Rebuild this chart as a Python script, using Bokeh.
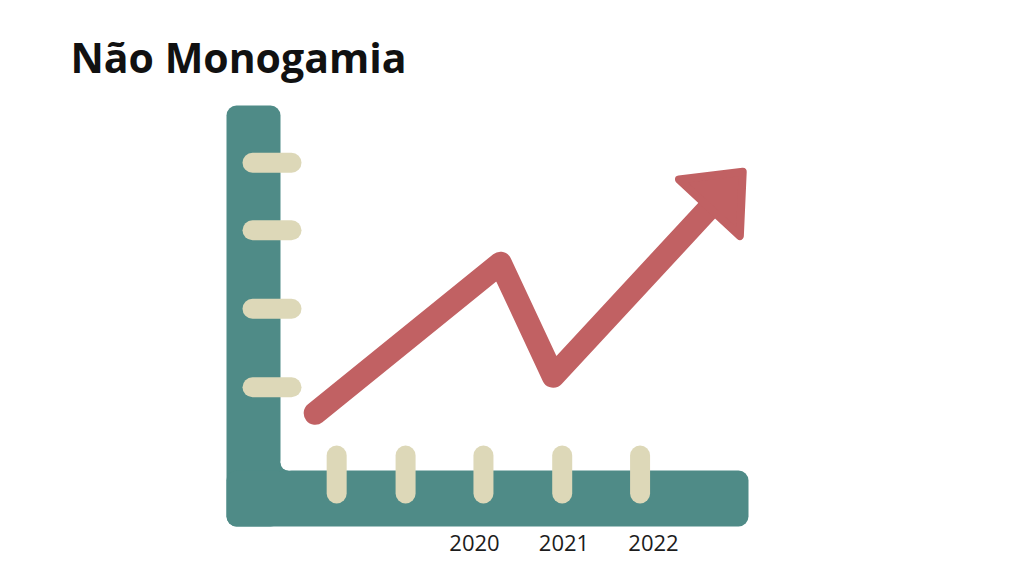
import numpy as np
from bokeh.plotting import figure
from bokeh.models import Range1d, Label
from bokeh.core.properties import value
from bokeh.embed import file_html
from bokeh.resources import INLINE

# ---------------- data ----------------
title_text = "Não Monogamia"
year_labels = ["2020", "2021", "2022"]
year_positions = [2020, 2021, 2022]
trend_x = [2018.22, 2020.29, 2020.88, 2023.05]
trend_y = [0.73, 2.64, 1.20, 3.87]
x_ticks = [2018.46, 2019.23, 2020.10, 2020.98, 2021.85]
y_ticks = [1.06, 2.06, 3.06, 3.92]

# ---------------- style ----------------
TEAL = "#4f8b87"
BEIGE = "#ddd8b8"
RED = "#c16163"
INK = "#1c1c1c"

W, H = 1008, 560
PX_PER_YEAR = 89.5
PX_PER_UNIT = 78.5
X0_PX = 474.0   # where year 2020 sits inside the figure (px from left)
Y0_PX = 470.0   # where value 0 sits inside the figure (px from top)
x_start = 2020 - X0_PX / PX_PER_YEAR
x_end = x_start + W / PX_PER_YEAR
y_top = Y0_PX / PX_PER_UNIT
y_bottom = y_top - H / PX_PER_UNIT


def dx(px):
    return px / PX_PER_YEAR


def dy(px):
    return px / PX_PER_UNIT


# axis frame geometry (data units)
axis_left = 2020 - dx(248)
axis_inner_x = 2020 - dx(194)
axis_right = 2020 + dx(274)
axis_top = dy(365)
axis_inner_y = 0.0
axis_bottom = -dy(56)

p = figure(width=W, height=H, x_range=Range1d(x_start, x_end),
           y_range=Range1d(y_bottom, y_top), output_backend="svg",
           toolbar_location=None, min_border=0)
p.axis.visible = False
p.grid.visible = False
p.outline_line_color = None
p.background_fill_color = "white"
p.border_fill_color = "white"

# L-shaped axis
p.quad(left=[axis_left], right=[axis_inner_x], top=[axis_top], bottom=[axis_bottom],
       fill_color=TEAL, line_color=None, border_radius=10)
p.quad(left=[axis_left], right=[axis_right], top=[axis_inner_y], bottom=[axis_bottom],
       fill_color=TEAL, line_color=None, border_radius=10)
# inner fillet
p.quad(left=[axis_inner_x - dx(1)], right=[axis_inner_x + dx(8)],
       top=[axis_inner_y + dy(8)], bottom=[axis_inner_y - dy(1)],
       fill_color=TEAL, line_color=None)
p.scatter(x=[axis_inner_x + dx(8)], y=[axis_inner_y + dy(8)], marker="circle",
          size=16, fill_color="white", line_color=None)

# tick pills
p.segment(x0=[axis_left + dx(26)] * len(y_ticks), x1=[axis_left + dx(65)] * len(y_ticks),
          y0=y_ticks, y1=y_ticks, line_width=20, line_cap="round", line_color=BEIGE)
p.segment(x0=x_ticks, x1=x_ticks, y0=[axis_inner_y + dy(15)] * len(x_ticks),
          y1=[axis_inner_y - dy(23)] * len(x_ticks), line_width=20, line_cap="round",
          line_color=BEIGE)


# trend arrow (head computed in pixel space)
def to_px(x, y):
    return np.array([(x - x_start) * PX_PER_YEAR, (y - y_bottom) * PX_PER_UNIT])


def to_data(v):
    return v[0] / PX_PER_YEAR + x_start, v[1] / PX_PER_UNIT + y_bottom


tip = to_px(trend_x[-1], trend_y[-1])
prev = to_px(trend_x[-2], trend_y[-2])
u = (tip - prev) / np.linalg.norm(tip - prev)
n = np.array([-u[1], u[0]])
HEAD_LEN, HEAD_HW, R = 60.0, 46.5, 4.0
t_tip = tip - u * 7
base = tip - u * (HEAD_LEN - R)
c1 = base + n * (HEAD_HW - 5)
c2 = base - n * (HEAD_HW - 5)
head = [to_data(v) for v in (t_tip, c1, c2)]
line_end = to_data(tip - u * (HEAD_LEN - 18))

lx = list(trend_x[:-1]) + [line_end[0]]
ly = list(trend_y[:-1]) + [line_end[1]]
p.line(lx, ly, line_width=23, line_color=RED, line_join="round", line_cap="round")
p.patch([h[0] for h in head], [h[1] for h in head], fill_color=RED, line_color=RED,
        line_width=2 * R, line_join="round")

# year labels
p.text(x=year_positions, y=[-dy(72)] * len(year_positions), text=year_labels,
       text_align="center", text_baseline="alphabetic", text_font=value("Open Sans"),
       text_font_size="22px", text_color=INK)

# title
p.add_layout(Label(x=2020 - dx(404), y=dy(414), text=title_text,
                   text_font="Open Sans", text_font_style="bold",
                   text_font_size="41px", text_color="#111111",
                   text_baseline="alphabetic", text_align="left"))

open("out.html", "w").write(file_html(p, INLINE))
